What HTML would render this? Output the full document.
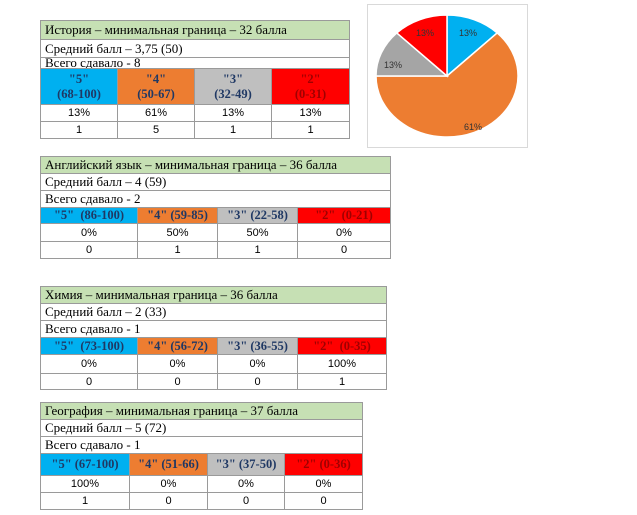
<!DOCTYPE html>
<html><head><meta charset="utf-8"><style>
body{margin:0;width:637px;height:515px;background:#fff;position:relative;overflow:hidden;font-family:"Liberation Serif","DejaVu Serif",serif}
table{position:absolute;border-collapse:collapse;table-layout:fixed}
td{border:1px solid #9a9a9a;padding:0;overflow:hidden;white-space:nowrap}
td.t{background:#c6e0b4;font-size:13px;padding-left:4px}
td.s{font-size:13px;padding-left:4px}
td.h{font-weight:bold;font-size:12.5px;text-align:center;color:#1f3864;line-height:15px}
td.n{font-family:"Liberation Sans","DejaVu Sans",sans-serif;font-size:11px;text-align:center}
.b{background:#00b0f0}.o{background:#ed7d31}.g{background:#bfbfbf}.r{background:#ff0000;color:#a00000!important}
</style></head><body>

<table style="left:40px;top:20px;width:309px">
<colgroup><col style="width:77px"><col style="width:77px"><col style="width:77px"><col style="width:78px"></colgroup>
<tr style="height:19px"><td class="t" colspan="4">История – минимальная граница – 32 балла</td></tr>
<tr style="height:18px"><td class="s" colspan="4">Средний балл – 3,75 (50)</td></tr>
<tr style="height:10px"><td class="s" colspan="4" style="line-height:10px;vertical-align:top">Всего сдавало - 8</td></tr>
<tr style="height:36px"><td class="h b">"5"<br>(68-100)</td><td class="h o">"4"<br>(50-67)</td><td class="h g">"3"<br>(32-49)</td><td class="h r">"2"<br>(0-31)</td></tr>
<tr style="height:17px"><td class="n">13%</td><td class="n">61%</td><td class="n">13%</td><td class="n">13%</td></tr>
<tr style="height:17px"><td class="n">1</td><td class="n">5</td><td class="n">1</td><td class="n">1</td></tr>
</table>

<svg style="position:absolute;left:0;top:0" width="637" height="515">
<rect x="367.5" y="4.5" width="160" height="143" fill="#fff" stroke="#d9d9d9"/>
<g stroke="#fff" stroke-width="1.5">
<path d="M447,76 L447,15 A71,61 0 0 1 497.2,32.9 Z" fill="#00b0f0"/>
<path d="M447,76 L497.2,32.9 A71,61 0 1 1 376,76 Z" fill="#ed7d31"/>
<path d="M447,76 L376,76 A71,61 0 0 1 396.8,32.9 Z" fill="#a5a5a5"/>
<path d="M447,76 L396.8,32.9 A71,61 0 0 1 447,15 Z" fill="#ff0000"/>
</g>
<g font-family="Liberation Sans,sans-serif" font-size="9" fill="#333" text-anchor="middle">
<text x="468" y="36">13%</text><text x="425" y="36">13%</text><text x="393" y="68">13%</text><text x="473" y="130">61%</text>
</g>
</svg>

<table style="left:40px;top:156px;width:350px">
<colgroup><col style="width:97px"><col style="width:80px"><col style="width:80px"><col style="width:93px"></colgroup>
<tr style="height:15px"><td class="t" colspan="4">Английский язык – минимальная граница – 36 балла</td></tr>
<tr style="height:15px"><td class="s" colspan="4">Средний балл – 4 (59)</td></tr>
<tr style="height:15px"><td class="s" colspan="4">Всего сдавало - 2</td></tr>
<tr style="height:16px"><td class="h b">"5" &nbsp;(86-100)</td><td class="h o">"4" (59-85)</td><td class="h g">"3" (22-58)</td><td class="h r">"2" &nbsp;(0-21)</td></tr>
<tr style="height:18px"><td class="n">0%</td><td class="n">50%</td><td class="n">50%</td><td class="n">0%</td></tr>
<tr style="height:17px"><td class="n">0</td><td class="n">1</td><td class="n">1</td><td class="n">0</td></tr>
</table>

<table style="left:40px;top:286px;width:346px">
<colgroup><col style="width:97px"><col style="width:80px"><col style="width:80px"><col style="width:89px"></colgroup>
<tr style="height:15px"><td class="t" colspan="4">Химия – минимальная граница – 36 балла</td></tr>
<tr style="height:15px"><td class="s" colspan="4">Средний балл – 2 (33)</td></tr>
<tr style="height:16px"><td class="s" colspan="4">Всего сдавало - 1</td></tr>
<tr style="height:17px"><td class="h b">"5" &nbsp;(73-100)</td><td class="h o">"4" (56-72)</td><td class="h g">"3" (36-55)</td><td class="h r">"2" &nbsp;(0-35)</td></tr>
<tr style="height:19px"><td class="n">0%</td><td class="n">0%</td><td class="n">0%</td><td class="n">100%</td></tr>
<tr style="height:16px"><td class="n">0</td><td class="n">0</td><td class="n">0</td><td class="n">1</td></tr>
</table>

<table style="left:40px;top:402px;width:322px">
<colgroup><col style="width:89px"><col style="width:78px"><col style="width:77px"><col style="width:78px"></colgroup>
<tr style="height:17px"><td class="t" colspan="4">География – минимальная граница – 37 балла</td></tr>
<tr style="height:17px"><td class="s" colspan="4">Средний балл – 5 (72)</td></tr>
<tr style="height:14px"><td class="s" colspan="4">Всего сдавало - 1</td></tr>
<tr style="height:22px"><td class="h b">"5" (67-100)</td><td class="h o">"4" (51-66)</td><td class="h g">"3" (37-50)</td><td class="h r">"2" (0-36)</td></tr>
<tr style="height:17px"><td class="n">100%</td><td class="n">0%</td><td class="n">0%</td><td class="n">0%</td></tr>
<tr style="height:17px"><td class="n">1</td><td class="n">0</td><td class="n">0</td><td class="n">0</td></tr>
</table>
</body></html>
